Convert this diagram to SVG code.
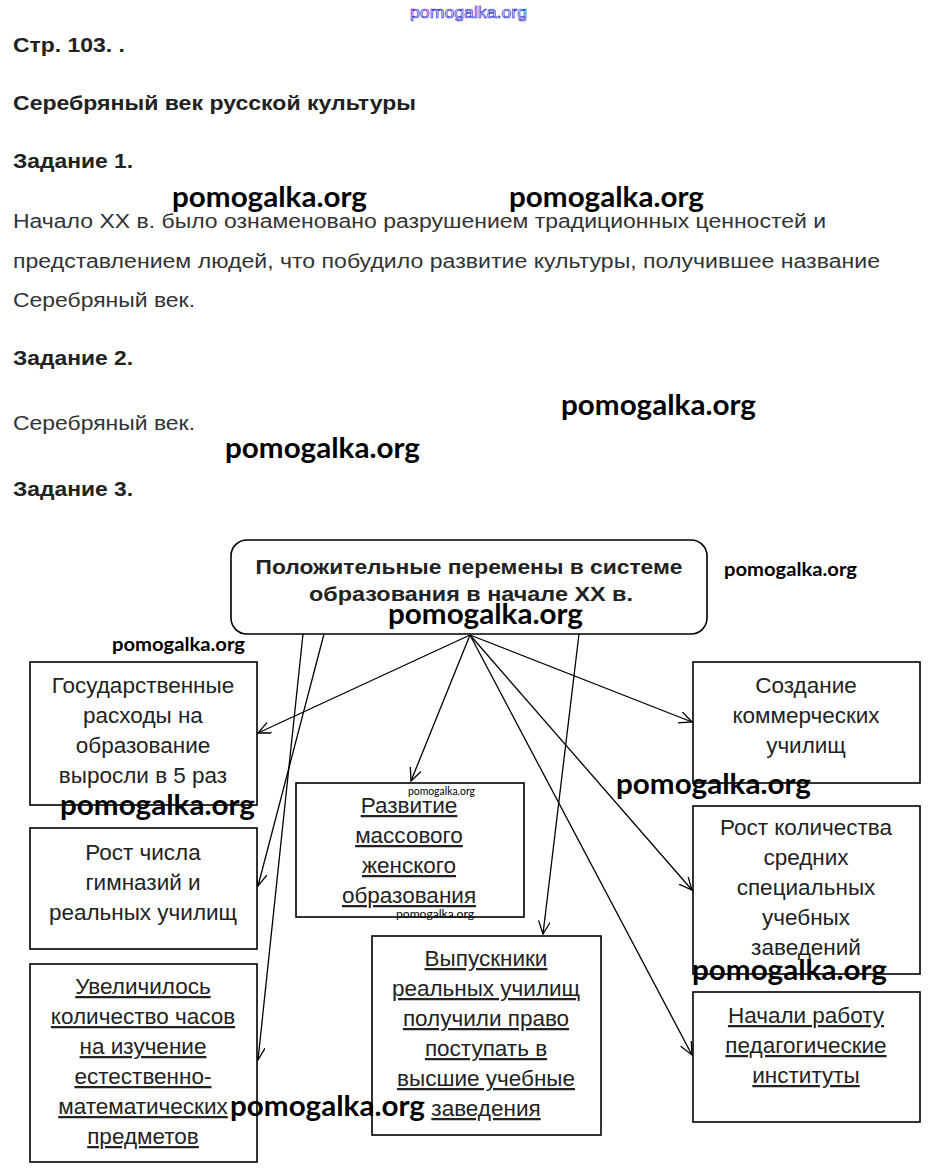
<svg xmlns="http://www.w3.org/2000/svg" width="934" height="1173" viewBox="0 0 934 1173">
<style>
.h{font-family:"Liberation Sans",Arial,sans-serif;font-weight:bold;font-size:20px;fill:#222}
.p{font-family:"Liberation Sans",Arial,sans-serif;font-size:20px;fill:#333}
.t{font-family:"Liberation Sans",Arial,sans-serif;font-size:22.5px;fill:#222;text-anchor:middle}
.u{text-decoration:underline}
.tb{font-family:"Liberation Sans",Arial,sans-serif;font-weight:bold;font-size:21px;fill:#222;text-anchor:middle}
.w{font-family:Lato,"Open Sans",sans-serif;font-weight:bold;font-size:28px;fill:#000}
.ws{font-family:Lato,"Open Sans",sans-serif;font-weight:bold;font-size:19px;fill:#000}
.wx{font-family:Lato,"Open Sans",sans-serif;font-size:12px;fill:#000}
.box{fill:#fff;stroke:#000;stroke-width:1.6}
.c{stroke:#000;stroke-width:1.3;fill:none}
</style>
<defs>
<marker id="arr" markerUnits="userSpaceOnUse" markerWidth="16" markerHeight="14" refX="13" refY="6" orient="auto">
<path d="M0,0 L13,6 L0,12" fill="none" stroke="#000" stroke-width="1.3"/>
</marker>
</defs>
<rect width="934" height="1173" fill="#fff"/>

<g id="page-text">
<text x="13" y="52" class="h" textLength="112" lengthAdjust="spacingAndGlyphs">Стр. 103. .</text>
<text x="13" y="110" class="h" textLength="403" lengthAdjust="spacingAndGlyphs">Серебряный век русской культуры</text>
<text x="13" y="168" class="h" textLength="120" lengthAdjust="spacingAndGlyphs">Задание 1.</text>
<text x="13" y="228" class="p" textLength="813" lengthAdjust="spacingAndGlyphs">Начало XX в. было ознаменовано разрушением традиционных ценностей и</text>
<text x="13" y="268" class="p" textLength="867" lengthAdjust="spacingAndGlyphs">представлением людей, что побудило развитие культуры, получившее название</text>
<text x="13" y="307" class="p" textLength="182" lengthAdjust="spacingAndGlyphs">Серебряный век.</text>
<text x="13" y="365" class="h" textLength="120" lengthAdjust="spacingAndGlyphs">Задание 2.</text>
<text x="13" y="430" class="p" textLength="182" lengthAdjust="spacingAndGlyphs">Серебряный век.</text>
<text x="13" y="496" class="h" textLength="120" lengthAdjust="spacingAndGlyphs">Задание 3.</text>
</g>

<g id="connectors">
<line class="c" x1="303" y1="634" x2="258" y2="1060" marker-end="url(#arr)"/>
<line class="c" x1="324" y1="634" x2="258" y2="886" marker-end="url(#arr)"/>
<line class="c" x1="579" y1="634" x2="543" y2="934" marker-end="url(#arr)"/>
<line class="c" x1="470" y1="635" x2="258" y2="733" marker-end="url(#arr)"/>
<line class="c" x1="470" y1="635" x2="411" y2="781" marker-end="url(#arr)"/>
<line class="c" x1="470" y1="635" x2="692" y2="722" marker-end="url(#arr)"/>
<line class="c" x1="470" y1="635" x2="692" y2="890" marker-end="url(#arr)"/>
<line class="c" x1="470" y1="635" x2="692" y2="1055" marker-end="url(#arr)"/>
</g>

<g id="root">
<rect class="box" x="231" y="540" width="476" height="94" rx="16"/>
<text x="469" y="574" class="tb" textLength="427" lengthAdjust="spacingAndGlyphs">Положительные перемены в системе</text>
<text x="471" y="601" class="tb" textLength="324" lengthAdjust="spacingAndGlyphs">образования в начале XX в.</text>
</g>

<g id="n-gos">
<rect class="box" x="30" y="662" width="227" height="143"/>
<text class="t" x="143" y="693">Государственные</text>
<text class="t" x="143" y="723">расходы на</text>
<text class="t" x="143" y="753">образование</text>
<text class="t" x="143" y="783">выросли в 5 раз</text>
</g>

<g id="n-gimn">
<rect class="box" x="30" y="828" width="227" height="121"/>
<text class="t" x="143" y="860">Рост числа</text>
<text class="t" x="143" y="890">гимназий и</text>
<text class="t" x="143" y="920">реальных училищ</text>
</g>

<g id="n-hours">
<rect class="box" x="30" y="964" width="227" height="198"/>
<text class="t u" x="143" y="994">Увеличилось</text>
<text class="t u" x="143" y="1024">количество часов</text>
<text class="t u" x="143" y="1054">на изучение</text>
<text class="t u" x="143" y="1084">естественно-</text>
<text class="t u" x="143" y="1114">математических</text>
<text class="t u" x="143" y="1144">предметов</text>
</g>

<g id="n-women">
<rect class="box" x="296" y="783" width="228" height="134"/>
<text class="t u" x="409" y="813">Развитие</text>
<text class="t u" x="409" y="843">массового</text>
<text class="t u" x="409" y="873">женского</text>
<text class="t u" x="409" y="903">образования</text>
</g>

<g id="n-grad">
<rect class="box" x="372" y="936" width="229" height="199"/>
<text class="t u" x="486" y="966">Выпускники</text>
<text class="t u" x="486" y="996">реальных училищ</text>
<text class="t u" x="486" y="1026">получили право</text>
<text class="t u" x="486" y="1056">поступать в</text>
<text class="t u" x="486" y="1086">высшие учебные</text>
<text class="t u" x="486" y="1116">заведения</text>
</g>

<g id="n-comm">
<rect class="box" x="693" y="662" width="227" height="121"/>
<text class="t" x="806" y="693">Создание</text>
<text class="t" x="806" y="723">коммерческих</text>
<text class="t" x="806" y="753">училищ</text>
</g>

<g id="n-spec">
<rect class="box" x="693" y="806" width="227" height="168"/>
<text class="t" x="806" y="835">Рост количества</text>
<text class="t" x="806" y="865">средних</text>
<text class="t" x="806" y="895">специальных</text>
<text class="t" x="806" y="925">учебных</text>
<text class="t" x="806" y="955">заведений</text>
</g>

<g id="n-ped">
<rect class="box" x="693" y="992" width="227" height="130"/>
<text class="t u" x="806" y="1023">Начали работу</text>
<text class="t u" x="806" y="1053">педагогические</text>
<text class="t u" x="806" y="1083">институты</text>
</g>

<g id="watermarks">
<text x="410" y="18" textLength="117" lengthAdjust="spacingAndGlyphs" style="font-family:'Liberation Sans',Arial,sans-serif;font-size:17px;fill:#fff;stroke:#2a2ad0;stroke-width:0.7">pomogalka.org</text>
<text class="w" x="172" y="207" textLength="195" lengthAdjust="spacingAndGlyphs">pomogalka.org</text>
<text class="w" x="509" y="207" textLength="195" lengthAdjust="spacingAndGlyphs">pomogalka.org</text>
<text class="w" x="561" y="415" textLength="195" lengthAdjust="spacingAndGlyphs">pomogalka.org</text>
<text class="w" x="225" y="458" textLength="195" lengthAdjust="spacingAndGlyphs">pomogalka.org</text>
<text class="ws" x="724" y="576" textLength="133" lengthAdjust="spacingAndGlyphs">pomogalka.org</text>
<text class="w" x="388" y="624" textLength="195" lengthAdjust="spacingAndGlyphs">pomogalka.org</text>
<text class="ws" x="112" y="651" textLength="133" lengthAdjust="spacingAndGlyphs">pomogalka.org</text>
<text class="w" x="60" y="815" textLength="195" lengthAdjust="spacingAndGlyphs">pomogalka.org</text>
<text class="w" x="616" y="794" textLength="195" lengthAdjust="spacingAndGlyphs">pomogalka.org</text>
<text class="w" x="692" y="980" textLength="195" lengthAdjust="spacingAndGlyphs">pomogalka.org</text>
<text class="w" x="230" y="1116" textLength="195" lengthAdjust="spacingAndGlyphs">pomogalka.org</text>
<text class="wx" x="408" y="795" textLength="67" lengthAdjust="spacingAndGlyphs">pomogalka.org</text>
<text class="wx" x="396" y="918" textLength="78" lengthAdjust="spacingAndGlyphs">pomogalka.org</text>
</g>
</svg>
